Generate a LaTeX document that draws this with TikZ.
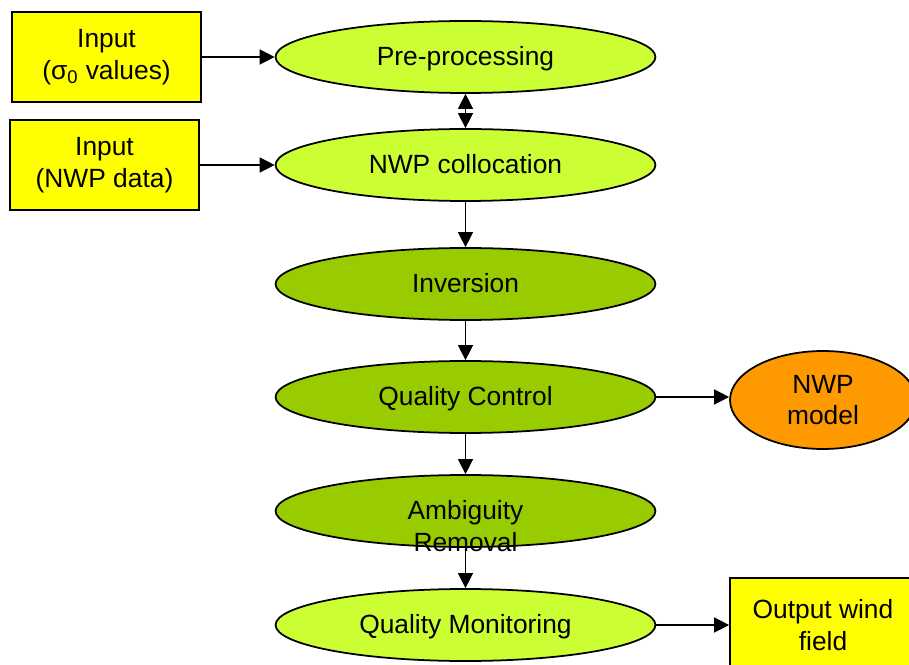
\documentclass[tikz,border=0pt]{standalone}
\usepackage{fontspec}
\setmainfont{Liberation Sans}
\usetikzlibrary{shapes.geometric, arrows.meta}
\definecolor{boxyellow}{RGB}{255,255,0}
\definecolor{lightgreen}{RGB}{204,255,51}
\definecolor{darkgreen}{RGB}{153,204,0}
\definecolor{nwporange}{RGB}{255,153,0}

\begin{document}
\begin{tikzpicture}[x=0.02cm,y=-0.02cm,>={Triangle[length=8.5pt,width=8.5pt]},
  every node/.style={font=\fontsize{15pt}{18pt}\selectfont},
  inbox/.style={draw,line width=1pt,fill=boxyellow,minimum width=3.78cm,minimum height=1.8cm,align=center,inner sep=0pt},
  proc/.style={ellipse,draw,line width=1pt,fill=lightgreen,minimum width=7.6cm,minimum height=1.44cm,inner sep=0pt,text depth=1pt},
  procdark/.style={proc,fill=darkgreen},
  link/.style={->,line width=0.8pt}]
\clip (0,0) rectangle (909,665);
% inputs
\node[inbox](in1) at (106.5,57){Input\\(σ\textsubscript{0} values)};
\node[inbox](in2) at (104.5,165){Input\\(NWP data)};
% processing chain
\node[proc](pre) at (465.5,57){Pre-processing};
\node[proc](nwpc) at (465.5,165){NWP collocation};
\node[procdark](inv) at (465.5,284){Inversion};
\node[procdark](qc) at (465.5,397){Quality Control};
\node[procdark](amb) at (465.5,511){};
\node[align=center](ambtext) at (465.5,526){Ambiguity\\Removal};
\node[proc](qm) at (465.5,625){Quality Monitoring};
% outputs
\node[ellipse,draw,line width=1pt,fill=nwporange,minimum width=3.72cm,minimum height=1.96cm,inner sep=0pt,align=center](nwpm) at (823,400){NWP\\model};
\node[inbox,minimum width=3.72cm,minimum height=1.88cm](out) at (823,625){Output wind\\field};

\draw[link](in1)--(pre);
\draw[link](in2)--(nwpc);
\draw[<->,line width=0.8pt](pre)--(nwpc);
\draw[link](nwpc)--(inv);
\draw[link](inv)--(qc);
\draw[link](qc)--(amb);
\draw[link](amb)--(qm);
\draw[link](qc.east)--(qc.east -| nwpm.west);
\draw[link](qm)--(out);
\end{tikzpicture}
\end{document}
